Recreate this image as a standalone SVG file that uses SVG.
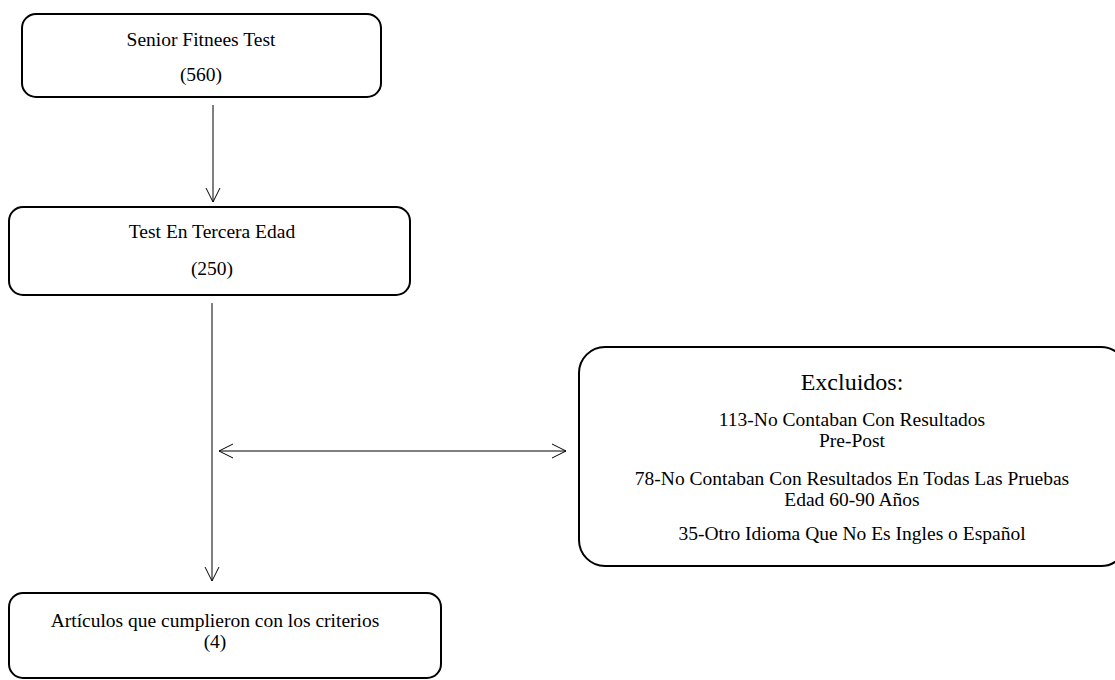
<svg xmlns="http://www.w3.org/2000/svg" width="1115" height="680" viewBox="0 0 1115 680">
<style>
.box{fill:#fff;stroke:#000;stroke-width:2}
.t{font-family:"Liberation Serif","Times New Roman",serif;font-size:19.5px;fill:#000;text-anchor:middle}
.big{font-size:24px}
.c{stroke:#000;stroke-width:1;fill:none}
</style>
<defs>
<marker id="ah" viewBox="0 0 16 16" refX="15" refY="8" markerWidth="16" markerHeight="16" markerUnits="userSpaceOnUse" orient="auto-start-reverse">
<path d="M1,1 L15,8 L1,15" fill="none" stroke="#000" stroke-width="1"/>
</marker>
</defs>
<g id="connectors">
<line class="c" x1="213" y1="105" x2="213" y2="202" marker-end="url(#ah)"/>
<line class="c" x1="212" y1="303" x2="212" y2="581" marker-end="url(#ah)"/>
<line class="c" x1="219" y1="451" x2="566" y2="451" marker-start="url(#ah)" marker-end="url(#ah)"/>
</g>
<g id="n1">
<rect class="box" x="22" y="14" width="359" height="83" rx="14"/>
<text class="t" x="201" y="46">Senior Fitnees Test</text>
<text class="t" x="201" y="81">(560)</text>
</g>
<g id="n2">
<rect class="box" x="9" y="207" width="401" height="88" rx="14"/>
<text class="t" x="212" y="238">Test En Tercera Edad</text>
<text class="t" x="212" y="275">(250)</text>
</g>
<g id="n3">
<rect class="box" x="579" y="347" width="548" height="219" rx="26"/>
<text class="t big" x="852" y="390">Excluidos:</text>
<text class="t" x="852" y="426">113-No Contaban Con Resultados</text>
<text class="t" x="852" y="447">Pre-Post</text>
<text class="t" x="852" y="485">78-No Contaban Con Resultados En Todas Las Pruebas</text>
<text class="t" x="852" y="506">Edad 60-90 Años</text>
<text class="t" x="852" y="540">35-Otro Idioma Que No Es Ingles o Español</text>
</g>
<g id="n4">
<rect class="box" x="9" y="593" width="432" height="85" rx="14"/>
<text class="t" x="215" y="627">Artículos que cumplieron con los criterios</text>
<text class="t" x="215" y="648">(4)</text>
</g>
</svg>
